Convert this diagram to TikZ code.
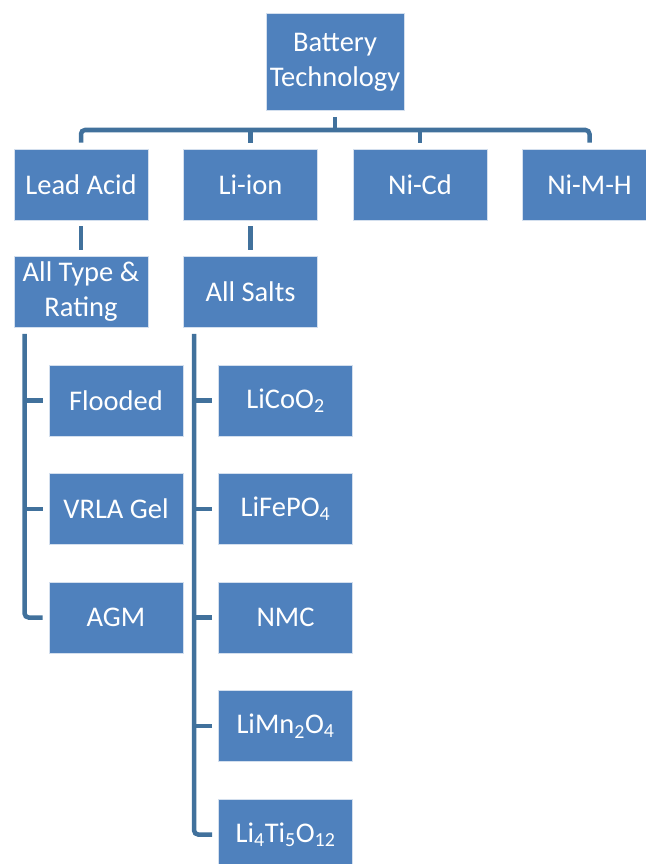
\documentclass[tikz,border=0pt]{standalone}
\usepackage{fontspec}
\setmainfont{Carlito}
\usetikzlibrary{positioning}

\definecolor{boxblue}{HTML}{4F81BD}
\definecolor{linkblue}{HTML}{41719C}

\begin{document}
\begin{tikzpicture}[
    x=1pt, y=-1pt,
    box/.style={fill=boxblue, draw=white!75!boxblue, line width=0.8pt,
                text=white, minimum width=134pt, minimum height=71pt,
                inner sep=2pt, align=center,
                font=\fontsize{28.5}{35}\selectfont},
    link/.style={linkblue, line width=4.5pt, rounded corners=4pt}
]

\useasboundingbox (0,0) rectangle (645,864);

% ---------- top ----------
\node[box, minimum width=138pt, minimum height=97pt] (bt) at (335,62)
      {Battery\\Technology};

% ---------- families ----------
\node[box] (lead)  at (81,184.5)    {Lead Acid};
\node[box] (liion) at (250.5,184.5) {Li-ion};
\node[box] (nicd)  at (420,184.5)   {Ni-Cd};
\node[box] (nimh)  at (589.5,184.5) {Ni-M-H};

\node[box] (alltype)  at (81,292)    {All Type \&\\Rating};
\node[box] (allsalts) at (250.5,292) {All Salts};

% ---------- lead acid kinds ----------
\foreach \name/\txt [count=\i] in {flooded/Flooded, vrla/VRLA Gel, agm/AGM}
  \node[box] (\name) at (116,292+108.5*\i) {\txt};

% ---------- li-ion salts ----------
\foreach \name/\txt [count=\i] in {licoo/{LiCoO\textsubscript{2}},
    lifepo/{LiFePO\textsubscript{4}}, nmc/NMC,
    limno/{LiMn\textsubscript{2}O\textsubscript{4}},
    lito/{Li\textsubscript{4}Ti\textsubscript{5}O\textsubscript{12}}}
  \node[box] (\name) at (285.5,292+108.5*\i) {\txt};

% ---------- tree links ----------
\coordinate (hub) at (335,130);
\draw[link] ([yshift=-6pt]bt.south) -- (hub);
\draw[link] ([yshift=6pt]lead.north) |- (hub) -| ([yshift=6pt]nimh.north);
\foreach \n in {liion,nicd}
  \draw[link] ([yshift=6pt]\n.north) -- (\n.north |- hub);

\draw[link] ([yshift=-6pt]lead.south) -- ([yshift=6pt]alltype.north);
\draw[link] ([yshift=-6pt]liion.south) -- ([yshift=6pt]allsalts.north);

% ---------- side trunks ----------
\coordinate (trunkA) at ([xshift=11pt]alltype.south west);
\draw[link] ([yshift=-6pt]trunkA) |- ([xshift=-6pt]agm.west);
\foreach \n in {flooded,vrla}
  \draw[link] ([xshift=-6pt]\n.west) -- (\n.west -| trunkA);

\coordinate (trunkB) at ([xshift=11pt]allsalts.south west);
\draw[link] ([yshift=-6pt]trunkB) |- ([xshift=-6pt]lito.west);
\foreach \n in {licoo,lifepo,nmc,limno}
  \draw[link] ([xshift=-6pt]\n.west) -- (\n.west -| trunkB);

\end{tikzpicture}
\end{document}
